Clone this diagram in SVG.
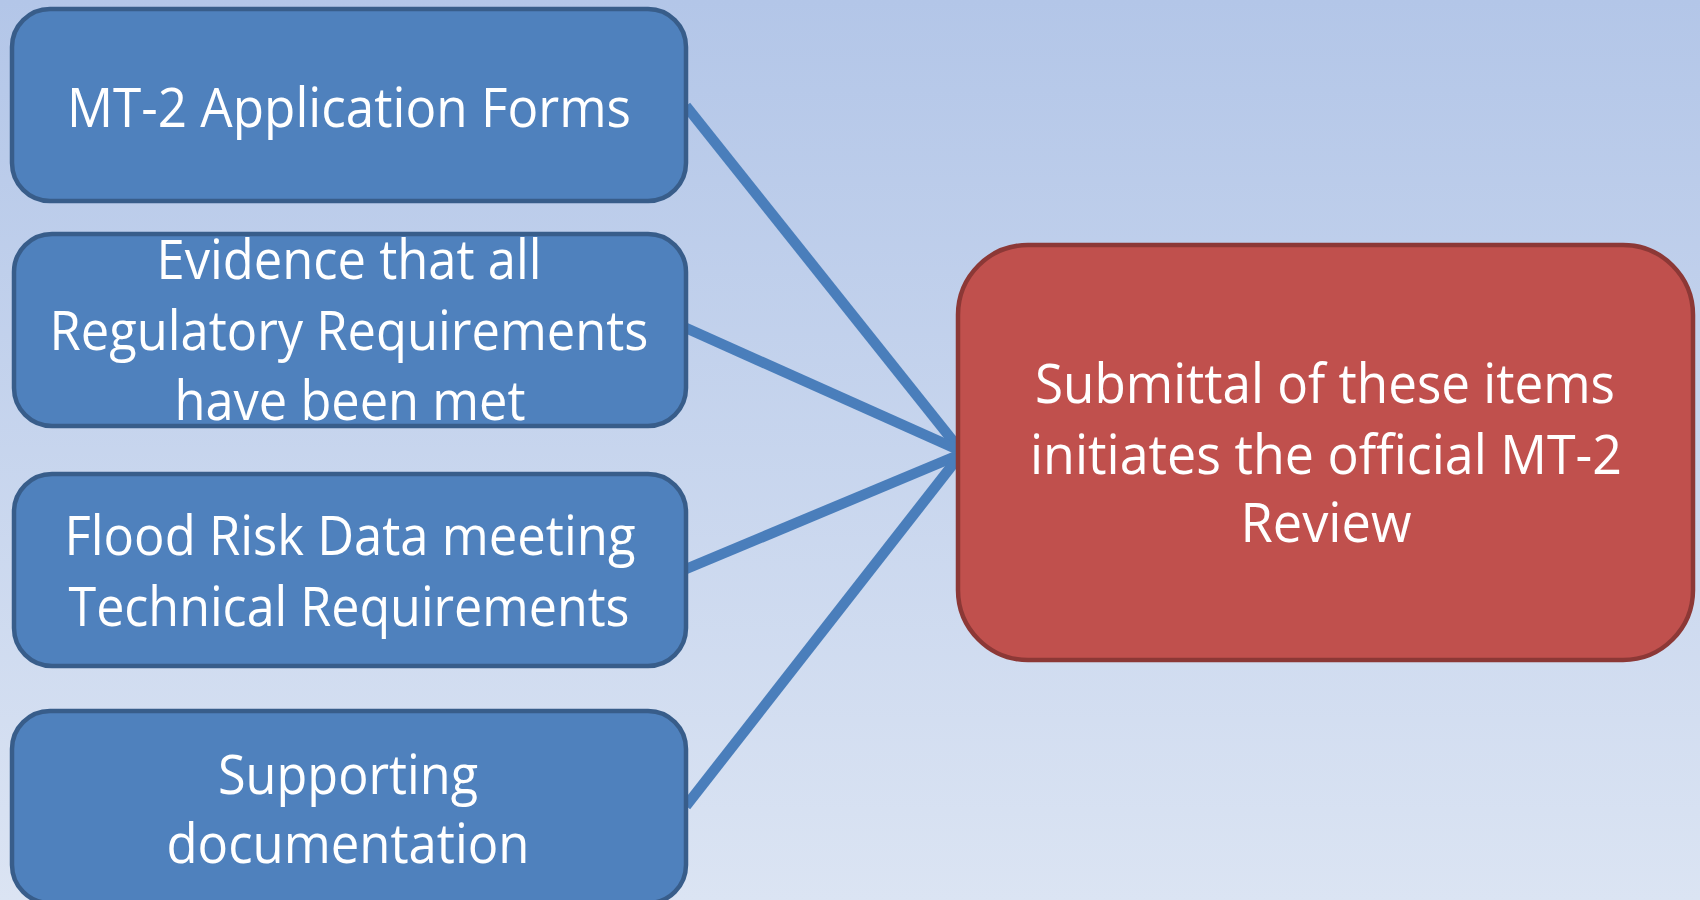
<svg xmlns="http://www.w3.org/2000/svg" width="1700" height="900" viewBox="0 0 1700 900">
<defs>
<linearGradient id="bg" x1="0" y1="0" x2="0" y2="1">
<stop offset="0" stop-color="#b3c6e8"/>
<stop offset="1" stop-color="#dbe4f3"/>
</linearGradient>
</defs>
<style>
.box{fill:#4f81bd;stroke:#385d8a;stroke-width:4.5}
.red{fill:#c0504d;stroke:#8c3836;stroke-width:4.5}
.t{font-family:"Open Sans","Noto Sans","DejaVu Sans",sans-serif;font-size:54px;fill:#ffffff;text-anchor:middle}
.conn{stroke:#4a7ebb;stroke-width:10.5;fill:none;stroke-linecap:butt}
</style>
<rect width="1700" height="900" fill="url(#bg)"/>
<g id="connectors">
<line class="conn" x1="686" y1="106" x2="961" y2="451"/>
<line class="conn" x1="686" y1="328" x2="961" y2="451"/>
<line class="conn" x1="686" y1="569" x2="961" y2="454"/>
<line class="conn" x1="686" y1="806" x2="961" y2="454"/>
</g>
<g id="node1">
<rect class="box" x="12" y="9" width="674" height="192" rx="38"/>
<text class="t" x="349" y="127" textLength="564" lengthAdjust="spacingAndGlyphs">MT-2 Application Forms</text>
</g>
<g id="node2">
<rect class="box" x="14" y="234" width="672" height="192" rx="38"/>
<text class="t" x="349" y="279" textLength="385" lengthAdjust="spacingAndGlyphs">Evidence that all</text>
<text class="t" x="349" y="350" textLength="599" lengthAdjust="spacingAndGlyphs">Regulatory Requirements</text>
<text class="t" x="350" y="420" textLength="351" lengthAdjust="spacingAndGlyphs">have been met</text>
</g>
<g id="node3">
<rect class="box" x="14" y="474" width="672" height="192" rx="38"/>
<text class="t" x="350" y="555" textLength="571" lengthAdjust="spacingAndGlyphs">Flood Risk Data meeting</text>
<text class="t" x="349" y="626" textLength="561" lengthAdjust="spacingAndGlyphs">Technical Requirements</text>
</g>
<g id="node4">
<rect class="box" x="12" y="711" width="674" height="192" rx="38"/>
<text class="t" x="348" y="794" textLength="260" lengthAdjust="spacingAndGlyphs">Supporting</text>
<text class="t" x="348" y="863" textLength="363" lengthAdjust="spacingAndGlyphs">documentation</text>
</g>
<g id="node5">
<rect class="red" x="958" y="245" width="735" height="415" rx="70"/>
<text class="t" x="1325" y="403" textLength="580" lengthAdjust="spacingAndGlyphs">Submittal of these items</text>
<text class="t" x="1326" y="474" textLength="592" lengthAdjust="spacingAndGlyphs">initiates the official MT-2</text>
<text class="t" x="1326" y="542" textLength="171" lengthAdjust="spacingAndGlyphs">Review</text>
</g>
</svg>
